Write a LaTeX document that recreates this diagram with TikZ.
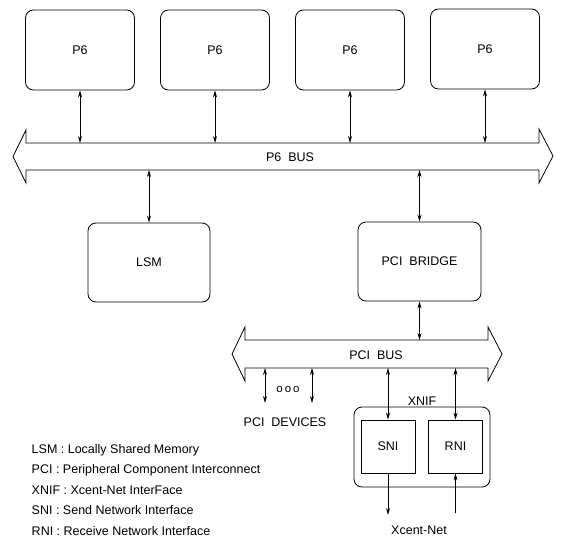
\documentclass[tikz,border=0pt]{standalone}
\usepackage{fontspec}
\setmainfont{Liberation Sans}
\usetikzlibrary{arrows.meta}

\begin{document}
\begin{tikzpicture}[x=1pt,y=-1pt,>={Stealth[length=7pt,width=4pt]},line width=0.8pt,
	every node/.style={font=\fontsize{12.5}{15}\selectfont},
	box/.style={draw,rounded corners=8pt,minimum width=109pt,minimum height=80pt},
	sqbox/.style={draw,minimum width=54pt,minimum height=53pt}]
			\useasboundingbox (0,0) rectangle (562,538);
			% processors
			\node[box] (p1) at (80,50) {P6};
			\node[box] (p2) at (215,50) {P6};
			\node[box] (p3) at (350,50) {P6};
			\node[box] (p4) at (485,49) {P6};
			% P6 bus
			\coordinate (p6top) at (0,143);
			\coordinate (p6bot) at (0,170);
			\draw (26,143) -- (26,130) -- (13,156.5) -- (26,183) -- (26,170) -- (539,170) -- (539,183) -- (553,156) -- (539,129) -- (539,143) -- cycle;
			\node (p6bus) at (290,157) {P6\ \ BUS};
			\draw[<->] (p1.south) -- (p1.south |- p6top);
			\draw[<->] (p2.south) -- (p2.south |- p6top);
			\draw[<->] (p3.south) -- (p3.south |- p6top);
			\draw[<->] (p4.south) -- (p4.south |- p6top);
			% memory and bridge
			\node[box,minimum width=122pt,minimum height=79pt] (lsm) at (149,262.5) {LSM};
			\node[box,minimum width=123pt,minimum height=79pt] (bridge) at (419.5,261.5) {PCI\ \ BRIDGE};
			\draw[<->] (lsm.north |- p6bot) -- (lsm.north);
			\draw[<->] (bridge.north |- p6bot) -- (bridge.north);
			% PCI bus
			\coordinate (pcitop) at (0,340);
			\coordinate (pcibot) at (0,368);
			\draw (245,340) -- (245,327) -- (232,354) -- (245,381) -- (245,368) -- (488,368) -- (488,381) -- (502,354) -- (488,327) -- (488,340) -- cycle;
			\node (pcibus) at (376,355) {PCI\ \ BUS};
			\draw[<->] (bridge.south) -- (bridge.south |- pcitop);
			% devices
			\coordinate (dev1) at (265,403);
			\coordinate (dev2) at (312,403);
			\draw[<->] (dev1 |- pcibot) -- (dev1);
			\draw[<->] (dev2 |- pcibot) -- (dev2);
			\node (dots) at (288,389) {\fontsize{11.5}{12}\selectfont o\,o\,o};
			\node (devices) at (285,422) {PCI\ \ DEVICES};
			% network interface
			\node[box,minimum width=136pt,minimum height=80pt] (xnif) at (422,447) {};
			\node[anchor=south,inner sep=0pt] (xniflbl) at ([yshift=1pt]xnif.north) {XNIF};
			\node[sqbox] (sni) at (388,446.5) {SNI};
			\node[sqbox] (rni) at (455.5,446.5) {RNI};
			\draw[<->] (sni.north |- pcibot) -- (sni.north);
			\draw[<->] (rni.north |- pcibot) -- (rni.north);
			\coordinate (netout) at (388,515);
			\coordinate (netin) at (455.5,513);
			\draw[->] (sni.south) -- (netout);
			\draw[->] (netin) -- (rni.south);
			\node (xnet) at (419,530) {Xcent-Net};
			% legend
			\node[anchor=west] (lg1) at (28,450) {LSM : Locally Shared Memory};
			\node[anchor=west] (lg2) at (28,470) {PCI : Peripheral Component Interconnect};
			\node[anchor=west] (lg3) at (28,490) {XNIF : Xcent-Net InterFace};
			\node[anchor=west] (lg4) at (28,510) {SNI : Send Network Interface};
			\node[anchor=west] (lg5) at (28,531) {RNI : Receive Network Interface};
		\end{tikzpicture}
\end{document}
